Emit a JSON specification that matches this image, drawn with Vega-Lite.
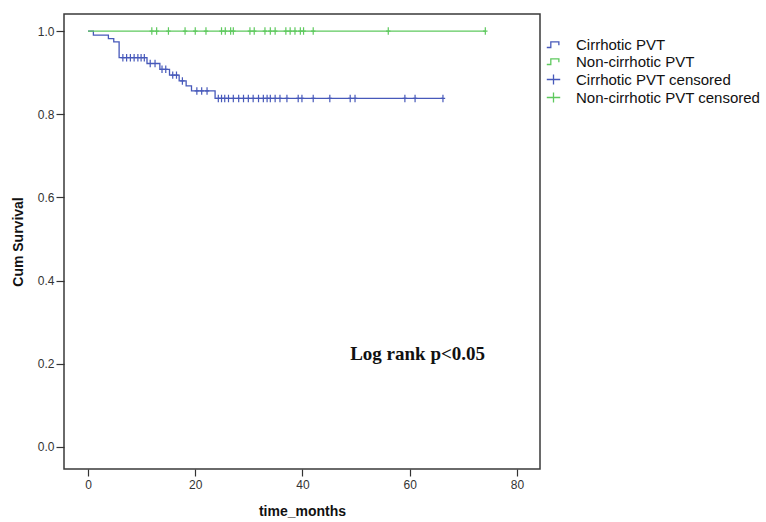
{
  "$schema": "https://vega.github.io/schema/vega-lite/v6.json",
  "width": 476,
  "height": 455,
  "autosize": {"type": "none"},
  "padding": {"left": 64, "top": 14, "right": 226, "bottom": 53},
  "background": "white",
  "config": {
    "view": {"stroke": "#3a3a3a", "strokeWidth": 1.5},
    "font": "Liberation Sans"
  },
  "datasets": {
    "curves": [
      {"t": 0, "s": 1.0, "series": "Cirrhotic PVT"},
      {"t": 1.0, "s": 0.99, "series": "Cirrhotic PVT"},
      {"t": 3.8, "s": 0.982, "series": "Cirrhotic PVT"},
      {"t": 4.8, "s": 0.974, "series": "Cirrhotic PVT"},
      {"t": 5.8, "s": 0.936, "series": "Cirrhotic PVT"},
      {"t": 11.0, "s": 0.922, "series": "Cirrhotic PVT"},
      {"t": 13.4, "s": 0.908, "series": "Cirrhotic PVT"},
      {"t": 15.2, "s": 0.894, "series": "Cirrhotic PVT"},
      {"t": 17.0, "s": 0.88, "series": "Cirrhotic PVT"},
      {"t": 18.3, "s": 0.868, "series": "Cirrhotic PVT"},
      {"t": 19.3, "s": 0.856, "series": "Cirrhotic PVT"},
      {"t": 23.7, "s": 0.838, "series": "Cirrhotic PVT"},
      {"t": 66.2, "s": 0.838, "series": "Cirrhotic PVT"},
      {"t": 0, "s": 1.0, "series": "Non-cirrhotic PVT"},
      {"t": 74.1, "s": 1.0, "series": "Non-cirrhotic PVT"}
    ],
    "censors": [
      {"t": 6.5, "s": 0.936, "series": "Cirrhotic PVT censored"},
      {"t": 7.2, "s": 0.936, "series": "Cirrhotic PVT censored"},
      {"t": 7.9, "s": 0.936, "series": "Cirrhotic PVT censored"},
      {"t": 8.6, "s": 0.936, "series": "Cirrhotic PVT censored"},
      {"t": 9.3, "s": 0.936, "series": "Cirrhotic PVT censored"},
      {"t": 9.9, "s": 0.936, "series": "Cirrhotic PVT censored"},
      {"t": 10.5, "s": 0.936, "series": "Cirrhotic PVT censored"},
      {"t": 11.6, "s": 0.922, "series": "Cirrhotic PVT censored"},
      {"t": 12.5, "s": 0.922, "series": "Cirrhotic PVT censored"},
      {"t": 13.8, "s": 0.908, "series": "Cirrhotic PVT censored"},
      {"t": 14.5, "s": 0.908, "series": "Cirrhotic PVT censored"},
      {"t": 15.8, "s": 0.894, "series": "Cirrhotic PVT censored"},
      {"t": 16.5, "s": 0.894, "series": "Cirrhotic PVT censored"},
      {"t": 17.6, "s": 0.88, "series": "Cirrhotic PVT censored"},
      {"t": 20.3, "s": 0.856, "series": "Cirrhotic PVT censored"},
      {"t": 21.2, "s": 0.856, "series": "Cirrhotic PVT censored"},
      {"t": 22.2, "s": 0.856, "series": "Cirrhotic PVT censored"},
      {"t": 24.3, "s": 0.838, "series": "Cirrhotic PVT censored"},
      {"t": 24.9, "s": 0.838, "series": "Cirrhotic PVT censored"},
      {"t": 25.5, "s": 0.838, "series": "Cirrhotic PVT censored"},
      {"t": 26.2, "s": 0.838, "series": "Cirrhotic PVT censored"},
      {"t": 27.1, "s": 0.838, "series": "Cirrhotic PVT censored"},
      {"t": 28.1, "s": 0.838, "series": "Cirrhotic PVT censored"},
      {"t": 29.0, "s": 0.838, "series": "Cirrhotic PVT censored"},
      {"t": 29.9, "s": 0.838, "series": "Cirrhotic PVT censored"},
      {"t": 30.8, "s": 0.838, "series": "Cirrhotic PVT censored"},
      {"t": 31.8, "s": 0.838, "series": "Cirrhotic PVT censored"},
      {"t": 32.7, "s": 0.838, "series": "Cirrhotic PVT censored"},
      {"t": 33.4, "s": 0.838, "series": "Cirrhotic PVT censored"},
      {"t": 34.0, "s": 0.838, "series": "Cirrhotic PVT censored"},
      {"t": 34.9, "s": 0.838, "series": "Cirrhotic PVT censored"},
      {"t": 35.8, "s": 0.838, "series": "Cirrhotic PVT censored"},
      {"t": 37.1, "s": 0.838, "series": "Cirrhotic PVT censored"},
      {"t": 39.2, "s": 0.838, "series": "Cirrhotic PVT censored"},
      {"t": 39.9, "s": 0.838, "series": "Cirrhotic PVT censored"},
      {"t": 42.0, "s": 0.838, "series": "Cirrhotic PVT censored"},
      {"t": 45.1, "s": 0.838, "series": "Cirrhotic PVT censored"},
      {"t": 48.9, "s": 0.838, "series": "Cirrhotic PVT censored"},
      {"t": 49.8, "s": 0.838, "series": "Cirrhotic PVT censored"},
      {"t": 59.1, "s": 0.838, "series": "Cirrhotic PVT censored"},
      {"t": 61.0, "s": 0.838, "series": "Cirrhotic PVT censored"},
      {"t": 66.2, "s": 0.838, "series": "Cirrhotic PVT censored"},
      {"t": 11.9, "s": 1.0, "series": "Non-cirrhotic PVT censored"},
      {"t": 12.8, "s": 1.0, "series": "Non-cirrhotic PVT censored"},
      {"t": 15.0, "s": 1.0, "series": "Non-cirrhotic PVT censored"},
      {"t": 18.1, "s": 1.0, "series": "Non-cirrhotic PVT censored"},
      {"t": 20.0, "s": 1.0, "series": "Non-cirrhotic PVT censored"},
      {"t": 22.0, "s": 1.0, "series": "Non-cirrhotic PVT censored"},
      {"t": 24.9, "s": 1.0, "series": "Non-cirrhotic PVT censored"},
      {"t": 25.6, "s": 1.0, "series": "Non-cirrhotic PVT censored"},
      {"t": 26.6, "s": 1.0, "series": "Non-cirrhotic PVT censored"},
      {"t": 27.1, "s": 1.0, "series": "Non-cirrhotic PVT censored"},
      {"t": 30.2, "s": 1.0, "series": "Non-cirrhotic PVT censored"},
      {"t": 31.0, "s": 1.0, "series": "Non-cirrhotic PVT censored"},
      {"t": 33.0, "s": 1.0, "series": "Non-cirrhotic PVT censored"},
      {"t": 34.0, "s": 1.0, "series": "Non-cirrhotic PVT censored"},
      {"t": 34.9, "s": 1.0, "series": "Non-cirrhotic PVT censored"},
      {"t": 36.9, "s": 1.0, "series": "Non-cirrhotic PVT censored"},
      {"t": 37.7, "s": 1.0, "series": "Non-cirrhotic PVT censored"},
      {"t": 38.6, "s": 1.0, "series": "Non-cirrhotic PVT censored"},
      {"t": 39.6, "s": 1.0, "series": "Non-cirrhotic PVT censored"},
      {"t": 40.2, "s": 1.0, "series": "Non-cirrhotic PVT censored"},
      {"t": 42.0, "s": 1.0, "series": "Non-cirrhotic PVT censored"},
      {"t": 56.0, "s": 1.0, "series": "Non-cirrhotic PVT censored"},
      {"t": 74.1, "s": 1.0, "series": "Non-cirrhotic PVT censored"}
    ],
    "legendItems": [
      {"series": "Cirrhotic PVT"},
      {"series": "Non-cirrhotic PVT"},
      {"series": "Cirrhotic PVT censored"},
      {"series": "Non-cirrhotic PVT censored"}
    ],
    "note": [{"label": "Log rank p<0.05"}]
  },
  "layer": [
    {
      "data": {"name": "curves"},
      "mark": {"type": "line", "interpolate": "step-after", "strokeWidth": 1.3},
      "encoding": {
        "x": {
          "field": "t", "type": "quantitative",
          "scale": {"domain": [-4.48, 84.3], "nice": false, "zero": false},
          "axis": {
            "title": "time_months", "values": [0, 20, 40, 60, 80], "grid": false, "domain": false,
            "tickSize": 7, "tickColor": "#333", "tickWidth": 1.2,
            "labelFont": "Liberation Sans", "labelFontSize": 12, "labelColor": "#333", "labelPadding": 3,
            "titleFont": "Liberation Sans", "titleFontSize": 14, "titleFontWeight": "bold", "titleColor": "#111", "titlePadding": 14
          }
        },
        "y": {
          "field": "s", "type": "quantitative",
          "scale": {"domain": [-0.053, 1.041], "nice": false, "zero": false},
          "axis": {
            "title": "Cum Survival", "values": [0, 0.2, 0.4, 0.6, 0.8, 1.0], "format": ".1f", "grid": false, "domain": false,
            "tickSize": 8, "tickColor": "#333", "tickWidth": 1.2,
            "labelFont": "Liberation Sans", "labelFontSize": 12, "labelColor": "#333", "labelPadding": 2,
            "titleFont": "Liberation Sans", "titleFontSize": 14, "titleFontWeight": "bold", "titleColor": "#111", "titlePadding": 12
          }
        },
        "detail": {"field": "series"},
        "color": {
          "field": "series", "type": "nominal",
          "scale": {
            "domain": ["Cirrhotic PVT", "Non-cirrhotic PVT", "Cirrhotic PVT censored", "Non-cirrhotic PVT censored"],
            "range": ["#4759ba", "#5ec95e", "#4759ba", "#5ec95e"]
          },
          "legend": {
            "title": null, "orient": "none", "legendX": 482, "legendY": 23,
            "labelFont": "Liberation Sans", "labelFontSize": 15, "labelColor": "#111",
            "labelOffset": 15, "rowPadding": 1, "symbolSize": 180, "symbolStrokeWidth": 1.3,
            "symbolOpacity": 1, "symbolFillColor": "transparent", "labelLimit": 300
          }
        }
      }
    },
    {
      "data": {"name": "censors"},
      "mark": {"type": "point", "filled": false, "size": 55, "strokeWidth": 1.2, "opacity": 1, "shape": "M0,-1V1M-0.6,0H0.6"},
      "encoding": {
        "x": {"field": "t", "type": "quantitative"},
        "y": {"field": "s", "type": "quantitative"},
        "color": {"field": "series", "type": "nominal"}
      }
    },
    {
      "data": {"name": "legendItems"},
      "mark": {"type": "point", "filled": false, "opacity": 1, "size": 1, "clip": true},
      "encoding": {
        "x": {"datum": -60, "type": "quantitative"},
        "y": {"datum": 0, "type": "quantitative"},
        "color": {"field": "series", "type": "nominal"},
        "shape": {
          "field": "series", "type": "nominal",
          "scale": {
            "domain": ["Cirrhotic PVT", "Non-cirrhotic PVT", "Cirrhotic PVT censored", "Non-cirrhotic PVT censored"],
            "range": ["M-1,0.45H-0.4V-0.4H0.8V0.1", "M-1,0.45H-0.4V-0.4H0.8V0.1", "M-1,0H1M0,-0.75V0.75", "M-1,0H1M0,-0.75V0.75"]
          },
          "legend": {
            "title": null, "orient": "none", "legendX": 482, "legendY": 23,
            "labelFont": "Liberation Sans", "labelFontSize": 15, "labelColor": "#111",
            "labelOffset": 15, "rowPadding": 1, "symbolSize": 180, "symbolStrokeWidth": 1.3,
            "symbolOpacity": 1, "symbolFillColor": "transparent", "labelLimit": 300
          }
        }
      }
    },
    {
      "data": {"name": "note"},
      "mark": {"type": "text", "font": "Liberation Serif", "fontSize": 19, "fontWeight": "bold", "align": "left", "baseline": "alphabetic", "color": "#111"},
      "encoding": {
        "text": {"field": "label"},
        "x": {"datum": 48.9, "type": "quantitative"},
        "y": {"datum": 0.209, "type": "quantitative"}
      }
    }
  ]
}
